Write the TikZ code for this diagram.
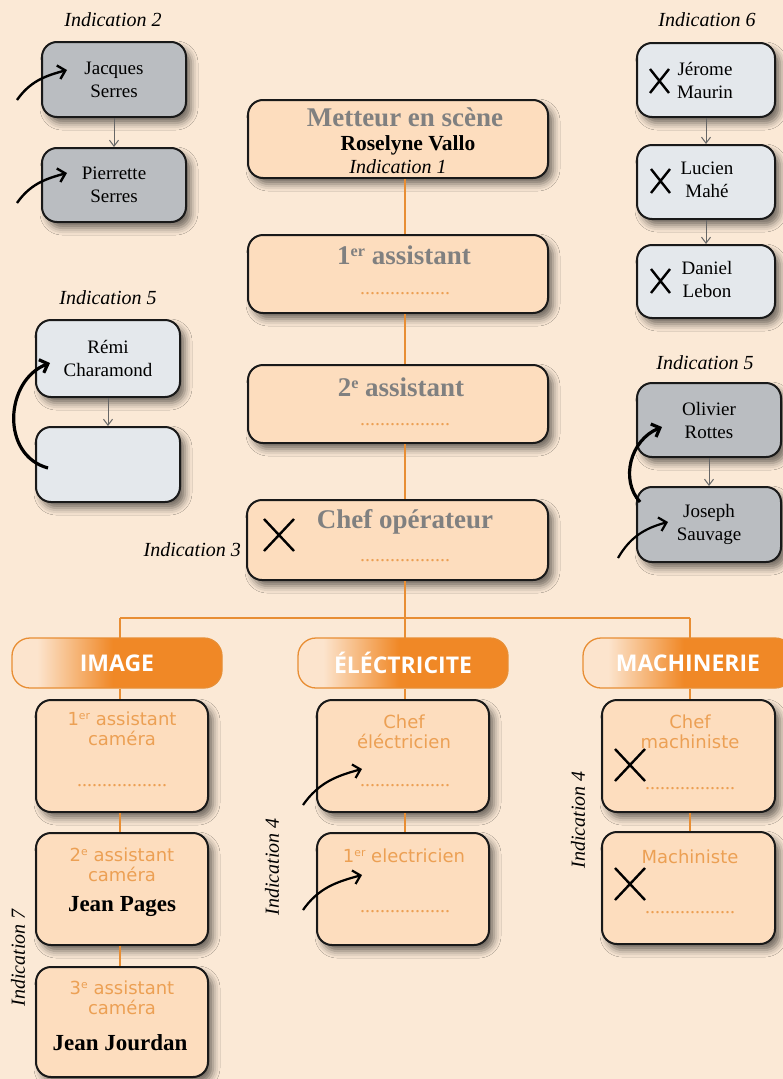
\documentclass[tikz,border=0pt]{standalone}
\usepackage{fontspec}
\setmainfont{Liberation Serif}
\newfontfamily\orgsans{DejaVu Sans}
\newfontfamily\orghdr{Open Sans}
\usetikzlibrary{shadows.blur,arrows.meta,calc}
\definecolor{bgcol}{RGB}{251,233,214}
\definecolor{boxor}{RGB}{253,221,190}
\definecolor{boxgray}{RGB}{186,189,193}
\definecolor{boxlight}{RGB}{228,232,236}
\definecolor{lineor}{RGB}{232,142,52}
\definecolor{hdror}{RGB}{240,136,38}
\definecolor{hdrlight}{RGB}{252,228,205}
\definecolor{titlegray}{RGB}{128,128,128}
\definecolor{txtor}{RGB}{236,160,84}
\pgfdeclarehorizontalshading{hdrshade}{100bp}{color(0bp)=(hdrlight); color(31bp)=(hdrlight); color(49bp)=(hdror); color(100bp)=(hdror)}
\newcommand\dotsstr{..................}
\newcommand\supsm[1]{\raisebox{0.6ex}{\scalebox{0.6}{#1}}}
\tikzset{
 basebox/.style={draw=black!90, line width=2pt, rounded corners=15pt, inner sep=0pt,
   blur shadow={shadow xshift=5pt, shadow yshift=-6pt, shadow blur radius=7pt, shadow opacity=55}},
 obox/.style={basebox, fill=boxor},
 gbox/.style={basebox, fill=boxgray},
 lbox/.style={basebox, fill=boxlight},
 sz/.style 2 args={minimum width=#1pt, minimum height=#2pt},
 hdr/.style={draw=lineor, line width=1.3pt, rounded corners=18pt, shading=hdrshade,
   minimum width=210pt, minimum height=50pt, inner sep=0pt,
   font=\orghdr\bfseries\fontsize{23}{26}\selectfont, text=white},
 orgline/.style={draw=lineor, line width=1.3pt},
 grarrow/.style={draw=black!60, line width=1pt, -{Straight Barb[length=6pt,width=9pt]}},
 curvarrow/.style={draw=black, line width=2.4pt, -{Straight Barb[length=7pt,width=14pt]}},
 xmark/.style={draw=black, line width=2.4pt},
 ind/.style={font=\itshape\fontsize{20}{24}\selectfont, inner sep=0pt},
 nm/.style={align=center, font=\fontsize{19}{23}\selectfont, inner sep=0pt},
 ttl/.style={font=\bfseries\fontsize{27}{31}\selectfont, text=titlegray, inner sep=0pt},
 bname/.style={font=\bfseries\fontsize{23}{27}\selectfont, inner sep=0pt},
 otxt/.style={align=center, font=\orgsans\fontsize{18}{20}\selectfont, text=txtor, inner sep=0pt},
 dts/.style={font=\fontsize{20}{20}\selectfont, text=txtor, inner sep=0pt},
}
\begin{document}
\begin{tikzpicture}[x=1pt,y=-1pt]
\useasboundingbox (0,0) rectangle (783,1079);
\clip (0,0) rectangle (783,1079);
\fill[bgcol] (0,0) rectangle (783,1079);

% ---- coordinates for the tree
\coordinate (spine) at (405,0);
\coordinate (junc) at (405,618);
\coordinate (jl) at (120,618);
\coordinate (jr) at (690,618);

% ---- main column
\node[obox, sz={300}{78}] (met) at (398,139) {};
\node[obox, sz={300}{78}] (a1) at (398,274) {};
\node[obox, sz={300}{78}] (a2) at (398,404) {};
\node[obox, sz={301}{80}] (co) at (397.5,540) {};

\node[ttl] (mett) at (405,117) {Metteur en scène};
\node[bname, font=\bfseries\fontsize{21.5}{25}\selectfont] (metn) at (408,145) {Roselyne Vallo};
\node[ind] (ind1) at (398,167) {Indication 1};

\node[ttl] (a1t) at (404,255) {1\supsm{er} assistant};
\node[dts] (a1d) at (405,294) {\dotsstr};
\node[ttl] (a2t) at (401,387) {2\supsm{e} assistant};
\node[dts] (a2d) at (405,425) {\dotsstr};
\node[ttl] (cot) at (405,522) {Chef opérateur};
\node[dts] (cod) at (405,561) {\dotsstr};
\draw[xmark] (264,519) -- (294,551) (294,519) -- (264,551);
\node[ind, anchor=east] (ind3) at (241,550) {Indication 3};

% ---- orange connectors
\draw[orgline] (met.south -| spine) -- (a1.north -| spine);
\draw[orgline] (a1.south -| spine) -- (a2.north -| spine);
\draw[orgline] (a2.south -| spine) -- (co.north -| spine);
\draw[orgline] (co.south -| spine) -- (junc);
\draw[orgline] (jl) -- (jr);
\draw[orgline] (jl) -- ++(0,22);
\draw[orgline] (junc) -- ++(0,22);
\draw[orgline] (jr) -- ++(0,22);

% ---- headers
\node[hdr] (himg) at (117,663) {IMAGE};
\node[hdr] (hele) at (403,663) {ÉLÉCTRICITE};
\node[hdr] (hmac) at (688,663) {MACHINERIE};

% ---- image column
\node[obox, sz={172}{112}] (i1) at (122,756) {};
\node[obox, sz={172}{112}] (i2) at (122,889) {};
\node[obox, sz={172}{110}] (i3) at (122,1022) {};
\draw[orgline] (himg.south -| jl) -- (i1.north -| jl);
\draw[orgline] (i1.south -| jl) -- (i2.north -| jl);
\draw[orgline] (i2.south -| jl) -- (i3.north -| jl);
\node[otxt] (i1t) at (122,729) {1\supsm{er} assistant\\caméra};
\node[dts] (i1d) at (122,786) {\dotsstr};
\node[otxt] (i2t) at (122,865) {2\supsm{e} assistant\\caméra};
\node[bname] (i2n) at (122,906) {Jean Pages};
\node[otxt] (i3t) at (122,998) {3\supsm{e} assistant\\caméra};
\node[bname] (i3n) at (120,1043) {Jean Jourdan};
\node[ind, rotate=90] (ind7) at (18,958) {Indication 7};

% ---- electricite column
\node[obox, sz={172}{112}] (e1) at (403,756) {};
\node[obox, sz={172}{112}] (e2) at (403,889) {};
\draw[orgline] (hele.south -| junc) -- (e1.north -| junc);
\draw[orgline] (e1.south -| junc) -- (e2.north -| junc);
\node[otxt] (e1t) at (404,732) {Chef\\éléctricien};
\node[dts] (e1d) at (405,786) {\dotsstr};
\node[otxt] (e2t) at (404,856) {1\supsm{er} electricien};
\node[dts] (e2d) at (405,912) {\dotsstr};
\node[ind, rotate=90] (ind4a) at (272,867) {Indication 4};

% ---- machinerie column
\node[obox, sz={173}{112}] (m1) at (688.5,756) {};
\node[obox, sz={173}{112}] (m2) at (688.5,888) {};
\draw[orgline] (hmac.south -| jr) -- (m1.north -| jr);
\draw[orgline] (m1.south -| jr) -- (m2.north -| jr);
\node[otxt] (m1t) at (690,732) {Chef\\machiniste};
\node[dts] (m1d) at (690,789) {\dotsstr};
\node[otxt] (m2t) at (690,857) {Machiniste};
\node[dts] (m2d) at (690,913) {\dotsstr};
\draw[xmark] (615,749) -- (645,781) (645,749) -- (615,781);
\draw[xmark] (615,868) -- (645,900) (645,868) -- (615,900);
\node[ind, rotate=90] (ind4b) at (578,820) {Indication 4};

% ---- left top
\node[ind] (ind2) at (113,20) {Indication 2};
\node[gbox, sz={144}{75}, nm] (jac) at (114,79.5) {Jacques\\Serres};
\node[gbox, sz={144}{74}, nm] (pie) at (114,185) {Pierrette\\Serres};
\draw[grarrow] (jac) -- (pie);
\coordinate (ja1) at (17,100); \coordinate (ja2) at (67,70);
\draw[curvarrow] (ja1) to[out=55,in=195] (ja2);
\coordinate (pa1) at (17,203); \coordinate (pa2) at (67,173);
\draw[curvarrow] (pa1) to[out=55,in=195] (pa2);

% ---- left middle
\node[ind] (ind5a) at (108,298) {Indication 5};
\node[lbox, sz={144}{77}, nm] (rem) at (108,358.5) {Rémi\\Charamond};
\node[lbox, sz={144}{75}] (emp) at (108,464.5) {};
\draw[grarrow] (rem) -- (emp);
\coordinate (ra1) at (48,468); \coordinate (ra2) at (50,363);
\draw[curvarrow, line width=3.2pt] (ra1) .. controls (0,455) and (5,380) .. (ra2);

% ---- right top
\node[ind] (ind6) at (707,20) {Indication 6};
\node[lbox, sz={138}{74}] (jer) at (706,80) {};
\node[lbox, sz={138}{74}] (luc) at (706,182) {};
\node[lbox, sz={138}{73}] (dan) at (706,281.5) {};
\node[nm] (jert) at (705,80) {Jérome\\Maurin};
\node[nm] (luct) at (707,180) {Lucien\\Mahé};
\node[nm] (dant) at (707,279) {Daniel\\Lebon};
\draw[xmark] (650,69) -- (669,93) (669,69) -- (650,93);
\draw[xmark] (651,169) -- (670,193) (670,169) -- (651,193);
\draw[xmark] (651,269) -- (670,293) (670,269) -- (651,293);
\draw[grarrow] (jer) -- (luc);
\draw[grarrow] (luc) -- (dan);

% ---- right middle
\node[ind] (ind5b) at (705,363) {Indication 5};
\node[gbox, sz={144}{74}, nm] (oli) at (709,420) {Olivier\\Rottes};
\node[gbox, sz={144}{75}, nm] (jos) at (709,524.5) {Joseph\\Sauvage};
\draw[grarrow] (oli) -- (jos);
\coordinate (oa1) at (640,502); \coordinate (oa2) at (662,427);
\draw[curvarrow, line width=3.2pt] (oa1) .. controls (620,480) and (630,440) .. (oa2);
\coordinate (sa1) at (618,558); \coordinate (sa2) at (668,522);
\draw[curvarrow, line width=2.2pt] (sa1) to[out=60,in=195] (sa2);

% ---- electricite arrows
\coordinate (ea1) at (303,805); \coordinate (ea2) at (362,769);
\draw[curvarrow, line width=2.2pt] (ea1) to[out=55,in=195] (ea2);
\coordinate (eb1) at (303,910); \coordinate (eb2) at (362,875);
\draw[curvarrow, line width=2.2pt] (eb1) to[out=55,in=195] (eb2);
\end{tikzpicture}
\end{document}
